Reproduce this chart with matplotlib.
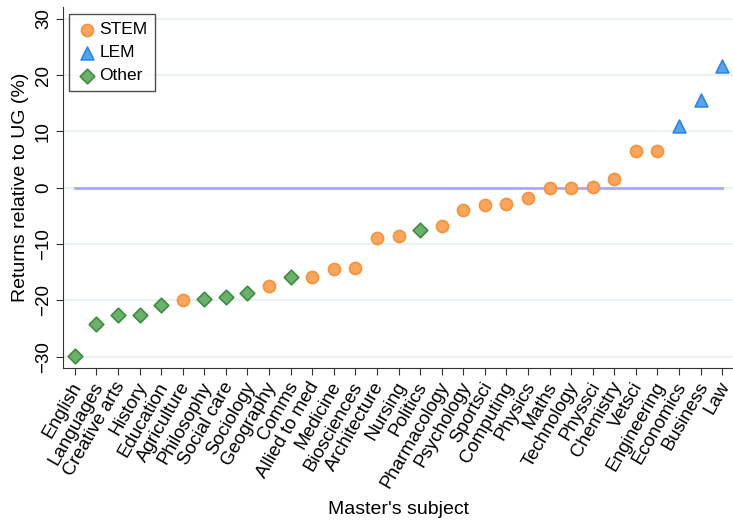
import matplotlib.pyplot as plt
import matplotlib.transforms as mtransforms
import numpy as np

plt.rcParams["font.family"] = ["Liberation Sans", "DejaVu Sans"]

subjects = [
    "English", "Languages", "Creative arts", "History", "Education",
    "Agriculture", "Philosophy", "Social care", "Sociology", "Geography",
    "Comms", "Allied to med", "Medicine", "Biosciences", "Architecture",
    "Nursing", "Politics", "Pharmacology", "Psychology", "Sportsci",
    "Computing", "Physics", "Maths", "Technology", "Physsci",
    "Chemistry", "Vetsci", "Engineering", "Economics", "Business", "Law",
]
returns = [
    -29.9, -24.2, -22.6, -22.6, -20.9,
    -20.0, -19.7, -19.4, -18.7, -17.4,
    -15.9, -15.8, -14.4, -14.3, -8.9,
    -8.6, -7.5, -6.7, -3.9, -3.0,
    -2.8, -1.85, -0.05, -0.05, 0.2,
    1.5, 6.5, 6.6, 10.9, 15.6, 21.7,
]
group = [
    "Other", "Other", "Other", "Other", "Other",
    "STEM", "Other", "Other", "Other", "STEM",
    "Other", "STEM", "STEM", "STEM", "STEM",
    "STEM", "Other", "STEM", "STEM", "STEM",
    "STEM", "STEM", "STEM", "STEM", "STEM",
    "STEM", "STEM", "STEM", "LEM", "LEM", "LEM",
]
yticks = [-30, -20, -10, 0, 10, 20, 30]

styles = {
    "STEM": dict(marker="o", s=75, facecolor="#fda55c", edgecolor="#f7913a"),
    "LEM": dict(marker="^", s=85, facecolor="#53a4f5", edgecolor="#2f86e0"),
    "Other": dict(marker="D", s=55, facecolor="#6bb06b", edgecolor="#3e8d3e"),
}

x = np.arange(len(subjects))
y = np.array(returns)
g = np.array(group)

fig = plt.figure(figsize=(7.33, 5.22), dpi=100)
ax = fig.add_axes([63 / 733, 1 - 368 / 522, 670 / 733, 361 / 522])

for v in yticks:
    ax.axhline(v, color="#eaf0f4", lw=1.6, zorder=0)
ax.plot([x[0], x[-1]], [0, 0], color="#aaaaf5", lw=2, zorder=1)

for name in ["STEM", "LEM", "Other"]:
    m = g == name
    ax.scatter(x[m], y[m], linewidths=1.2, zorder=3, label=name, **styles[name])

ax.set_xlim(-0.55, 30.5)
ax.set_ylim(-32, 32.1)
ax.set_yticks(yticks)
ax.set_xticks(x)
ax.tick_params(axis="y", labelrotation=90, labelsize=13.5, length=5,
               color="#333333", pad=3)
for lab in ax.get_yticklabels():
    lab.set_va("center")
ax.tick_params(axis="x", length=5, color="#333333", pad=3)
ax.set_xticklabels(subjects, rotation=60, ha="right", rotation_mode="anchor",
                   fontsize=13.5)
# nudge the slanted labels a little left so the last one stays inside
shift = mtransforms.ScaledTranslation(-4 / 100, 0, fig.dpi_scale_trans)
for lab in ax.get_xticklabels():
    lab.set_transform(lab.get_transform() + shift)

for side in ["top", "right"]:
    ax.spines[side].set_visible(False)
for side in ["left", "bottom"]:
    ax.spines[side].set_color("#333333")

ax.set_ylabel("Returns relative to UG (%)", fontsize=14, labelpad=4)
ax.set_xlabel("Master's subject", fontsize=14, labelpad=7)

leg = ax.legend(loc="upper left", bbox_to_anchor=(0.009, 0.98), fontsize=12.5,
                frameon=True, fancybox=False, edgecolor="#222222",
                handletextpad=0.1, borderpad=0.45, labelspacing=0.45,
                handlelength=1.2, borderaxespad=0)
leg.get_frame().set_linewidth(1.0)

fig.savefig("out.png", dpi=100)
